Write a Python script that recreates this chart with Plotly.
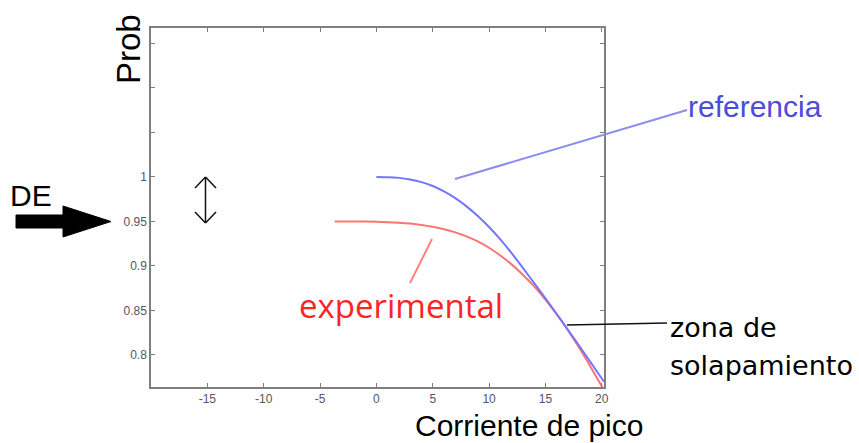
import plotly.graph_objects as go

# ---- data ----
ref_x = [0, 1, 2, 3, 4, 5, 6, 7, 8, 9, 10, 11, 12, 13, 14, 15, 16, 17, 18, 19, 20, 20.2]
ref_y = [1.0, 0.9998, 0.999, 0.9972, 0.9942, 0.9898, 0.9838, 0.9762, 0.967, 0.9562, 0.9438,
         0.9298, 0.9144, 0.8978, 0.8808, 0.8636, 0.846, 0.8282, 0.8102, 0.792, 0.7736, 0.770]
exp_x = [-3.7, -2, 0, 1, 2, 3, 4, 5, 6, 7, 8, 9, 10, 11, 12, 13, 14, 15, 16, 17, 18, 19,
         19.9, 20.05]
exp_y = [0.95, 0.95, 0.9496, 0.9492, 0.9486, 0.9476, 0.9461, 0.944, 0.9413, 0.9378, 0.9333,
         0.9276, 0.9205, 0.9118, 0.9018, 0.8902, 0.877, 0.8622, 0.8458, 0.8278, 0.808,
         0.7868, 0.767, 0.764]

x_ticks = [-15, -10, -5, 0, 5, 10, 15, 20]
y_ticks = [0.8, 0.85, 0.9, 0.95, 1.0, 1.05, 1.1, 1.15]
y_ticktext = ["0.8", "0.85", "0.9", "0.95", "1", "", "", ""]

# ---- layout geometry (pixels) ----
W, H = 859, 443
L, R, T, B = 151, 604, 28, 387


def px(x):
    return (x - L) / (R - L)


def py(y):
    return (B - y) / (B - T)


fig = go.Figure()
fig.add_trace(go.Scatter(x=exp_x, y=exp_y, mode="lines",
                         line=dict(color="#ff7373", width=2, shape="spline", smoothing=0.6),
                         showlegend=False, hoverinfo="skip"))
fig.add_trace(go.Scatter(x=ref_x, y=ref_y, mode="lines",
                         line=dict(color="#7575ff", width=2, shape="spline", smoothing=0.6),
                         showlegend=False, hoverinfo="skip"))

axis_common = dict(showgrid=False, zeroline=False, showline=True, linecolor="#7f7f7f",
                   linewidth=1.5, mirror="ticks", ticks="inside", ticklen=4,
                   tickcolor="#7f7f7f", tickwidth=1,
                   tickfont=dict(family="Liberation Sans, Arial", size=12, color="#555566"))

fig.update_xaxes(range=[-20, 20.2], tickvals=x_ticks, ticktext=[str(v) for v in x_ticks],
                 **axis_common)
fig.update_yaxes(range=[0.764, 1.1674], tickvals=y_ticks, ticktext=y_ticktext,
                 **axis_common)

shapes = []


def seg(x0, y0, x1, y1, color, width):
    shapes.append(dict(type="line", xref="paper", yref="paper",
                       x0=px(x0), y0=py(y0), x1=px(x1), y1=py(y1),
                       line=dict(color=color, width=width), layer="above"))


# leader lines
seg(455, 179, 687, 110, "#8c8cf0", 2)
seg(432, 239, 410, 283, "#ff8080", 2)
seg(567, 325, 667, 323, "#111111", 1.5)

# double arrow
seg(205.5, 177, 205.5, 223, "#111111", 1.5)
seg(195, 188, 205.5, 177, "#111111", 1.5)
seg(216, 188, 205.5, 177, "#111111", 1.5)
seg(195, 212, 205.5, 223, "#111111", 1.5)
seg(216, 212, 205.5, 223, "#111111", 1.5)

# big DE arrow
pts = [(16, 215), (63, 215), (63, 206), (111, 221.5), (63, 237), (63, 228), (16, 228)]
path = "M " + " L ".join(f"{px(a):.5f},{py(b):.5f}" for a, b in pts) + " Z"
shapes.append(dict(type="path", xref="paper", yref="paper", path=path,
                   fillcolor="black", line=dict(color="black", width=1)))


def txt(text, x, y, size, color="black", family="Liberation Sans, Arial", xanchor="left",
        angle=0):
    return dict(text=text, xref="paper", yref="paper", x=px(x), y=py(y),
                xanchor=xanchor, yanchor="middle", showarrow=False, textangle=angle,
                font=dict(family=family, size=size, color=color))


annotations = [
    txt("referencia", 686, 106, 30, color="#4b4bdc"),
    txt("experimental", 297, 305, 33, color="#ff2424", family="Open Sans"),
    txt("zona de", 668, 327, 27, family="DejaVu Sans"),
    txt("solapamiento", 668, 365, 27, family="DejaVu Sans"),
    txt("DE", 8, 195, 30),
    txt("Prob", 128, 49, 33, xanchor="center", angle=-90),
    txt("Corriente de pico", 413, 426, 30),
]

fig.update_layout(width=W, height=H, margin=dict(l=L, r=W - R, t=T, b=H - B),
                  plot_bgcolor="white", paper_bgcolor="white",
                  shapes=shapes, annotations=annotations, showlegend=False)

fig.write_html("out.html", config={"displayModeBar": False},
               post_script="document.body.style.margin='0';document.body.style.padding='0';")
